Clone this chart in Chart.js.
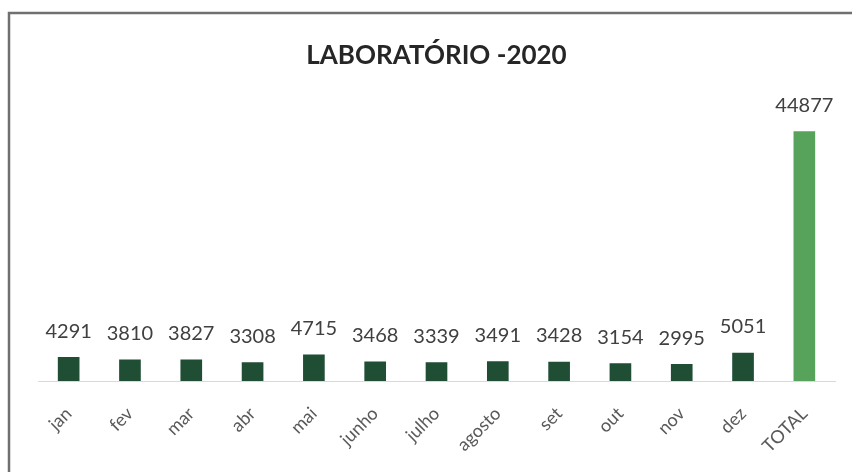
<!DOCTYPE html>
<html>
<head>
<meta charset="utf-8">
<script src="https://cdn.jsdelivr.net/npm/chart.js@4/dist/chart.umd.min.js"></script>
<style>
html,body{margin:0;padding:0;background:#fff;overflow:hidden;}
#wrap{width:852px;height:472px;position:relative;}
</style>
</head>
<body>
<div id="wrap"><canvas id="c" width="852" height="472"></canvas></div>
<script>
const categories = ['jan','fev','mar','abr','mai','junho','julho','agosto','set','out','nov','dez','TOTAL'];
const values = [4291,3810,3827,3308,4715,3468,3339,3491,3428,3154,2995,5051,44877];
const barColors = ['#1f4e35','#1f4e35','#1f4e35','#1f4e35','#1f4e35','#1f4e35','#1f4e35','#1f4e35','#1f4e35','#1f4e35','#1f4e35','#1f4e35','#58a35c'];
const chartTitle = 'LABORATÓRIO -2020';

const frame = {
  id: 'frame',
  beforeDraw(chart) {
    const ctx = chart.ctx;
    ctx.save();
    ctx.fillStyle = '#ffffff';
    ctx.fillRect(0, 0, chart.width, chart.height);
    ctx.strokeStyle = '#707070';
    ctx.lineWidth = 2.5;
    ctx.beginPath();
    ctx.moveTo(9, chart.height + 5);
    ctx.lineTo(9, 13);
    ctx.lineTo(chart.width + 5, 13);
    ctx.stroke();
    ctx.restore();
  }
};

const labelsPlugin = {
  id: 'valueLabels',
  afterDatasetsDraw(chart) {
    const ctx = chart.ctx;
    const meta = chart.getDatasetMeta(0);
    ctx.save();
    ctx.font = '20px Lato';
    ctx.fillStyle = '#404040';
    ctx.textAlign = 'center';
    ctx.textBaseline = 'middle';
    meta.data.forEach((bar, i) => {
      ctx.fillText(String(values[i]), bar.x, bar.y - 26);
    });
    ctx.restore();
  }
};

new Chart(document.getElementById('c'), {
  type: 'bar',
  data: {
    labels: categories,
    datasets: [{
      data: values,
      backgroundColor: barColors,
      barThickness: 21
    }]
  },
  options: {
    responsive: false,
    animation: false,
    layout: { padding: { top: 12, left: 38, right: 17, bottom: 1 } },
    plugins: {
      legend: { display: false },
      tooltip: { enabled: false },
      title: {
        display: true,
        text: chartTitle,
        color: '#262626',
        font: { family: 'Lato', size: 26, weight: 'bold' },
        padding: { top: 28, bottom: 32 }
      }
    },
    scales: {
      x: {
        grid: { display: false },
        border: { display: true, color: '#d9d9d9', width: 1 },
        ticks: {
          minRotation: 45, maxRotation: 45,
          padding: 14,
          color: '#595959',
          font: { family: 'Lato', size: 18 }
        }
      },
      y: {
        display: false,
        min: 0,
        max: 50000
      }
    }
  },
  plugins: [frame, labelsPlugin]
});
</script>
</body>
</html>
